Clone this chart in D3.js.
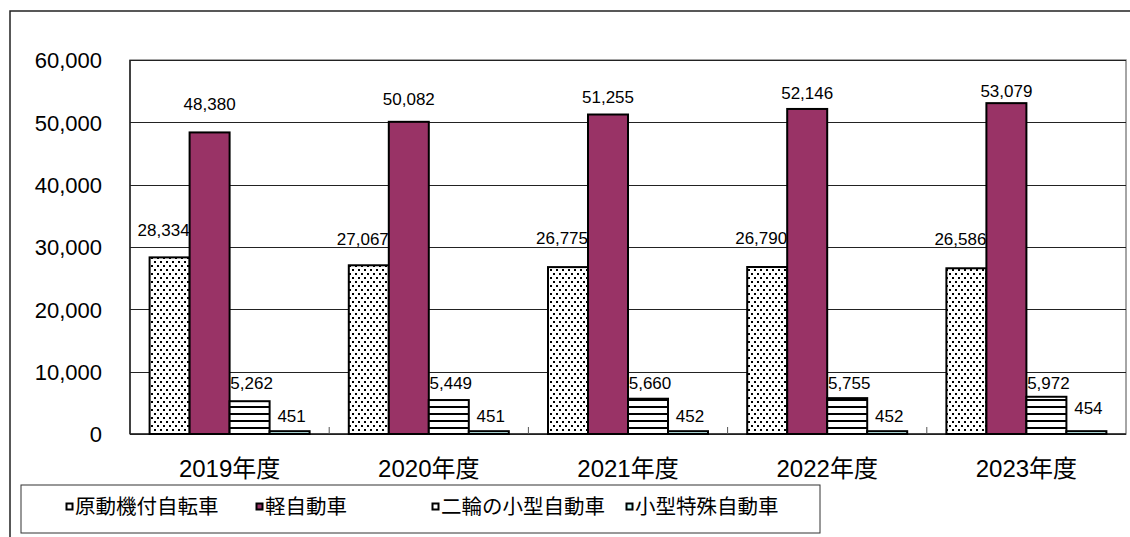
<!DOCTYPE html>
<html lang="ja">
<head>
<meta charset="utf-8">
<title>車種別台数</title>
<script src="https://d3js.org/d3.v7.min.js"></script>
<style>
  body { margin: 0; background: #fff; }
  svg { display: block; }
  text { font-family: "Liberation Sans", Arial, "Noto Sans CJK JP", sans-serif; fill: #000; }
  .ytick text { font-size: 22px; }
  .xtick text { font-size: 24px; }
  .value { font-size: 17px; }
  .legend text { font-size: 20.5px; font-family: "Noto Sans CJK JP", sans-serif; }
  .grid line { stroke: #222; stroke-width: 1; shape-rendering: crispEdges; }
  .grid path { stroke: none; }
</style>
</head>
<body>
<svg width="1130" height="537"></svg>
<script>
// data
const years = ["2019年度", "2020年度", "2021年度", "2022年度", "2023年度"];
const series = ["原動機付自転車", "軽自動車", "二輪の小型自動車", "小型特殊自動車"];
const gentsuki = [28334, 27067, 26775, 26790, 26586];
const keiJidosha = [48380, 50082, 51255, 52146, 53079];
const nirinKogata = [5262, 5449, 5660, 5755, 5972];
const kogataTokushu = [451, 451, 452, 452, 454];
const yTicks = [0, 10000, 20000, 30000, 40000, 50000, 60000];

// label offsets above bar top (px), as placed by hand in the original
const labelDy = [
  [-28, -26, -29, -29, -29],
  [-29, -23, -18, -16, -12],
  [-18, -17, -16, -15, -14],
  [-15, -15, -15, -15, -23]
];
const labelDx = [-6, 0, 2, 2];

const values = [gentsuki, keiJidosha, nirinKogata, kogataTokushu];
const fills = ["url(#dots)", "#993366", "url(#hlines)", "#ccffff"];
const legendFills = ["#fff", "#993366", "#fff", "#ccffff"];

const svg = d3.select("svg");
const plotL = 130, plotT = 60, plotR = 1126, plotB = 434;

// outer frame
svg.append("rect")
  .attr("x", 10).attr("y", 11).attr("width", 1200).attr("height", 600)
  .attr("fill", "none").attr("stroke", "#222").attr("stroke-width", 1.5);

// patterns
const defs = svg.append("defs");
const dots = defs.append("pattern").attr("id", "dots")
  .attr("patternUnits", "userSpaceOnUse").attr("width", 6).attr("height", 8);
dots.append("rect").attr("width", 6).attr("height", 8).attr("fill", "#fff");
dots.append("rect").attr("x", 1).attr("y", 1).attr("width", 2).attr("height", 2).attr("fill", "#000");
dots.append("rect").attr("x", 4).attr("y", 5).attr("width", 2).attr("height", 2).attr("fill", "#000");

const hl = defs.append("pattern").attr("id", "hlines")
  .attr("patternUnits", "userSpaceOnUse").attr("width", 8).attr("height", 7);
hl.append("rect").attr("width", 8).attr("height", 7).attr("fill", "#fff");
hl.append("rect").attr("y", 0).attr("width", 8).attr("height", 2).attr("fill", "#000");

const y = d3.scaleLinear().domain([0, 60000]).range([plotB, plotT]);
const x0 = d3.scaleBand().domain(years).range([plotL, plotR]).padding(0);
const x1 = d3.scaleBand().domain(d3.range(series.length))
  .range([0, x0.bandwidth()]).paddingInner(0).paddingOuter(0.49);

// plot border
svg.append("rect")
  .attr("x", plotL).attr("y", plotT).attr("width", plotR - plotL).attr("height", plotB - plotT)
  .attr("fill", "none").attr("stroke", "#888").attr("stroke-width", 1.5);

// grid lines
svg.append("g").attr("class", "grid")
  .attr("transform", `translate(${plotL},0)`)
  .call(d3.axisLeft(y).tickValues(yTicks).tickSize(-(plotR - plotL)).tickFormat(""));

// y labels
const yAxis = svg.append("g").attr("class", "ytick")
  .attr("transform", `translate(${plotL},0)`)
  .call(d3.axisLeft(y).tickValues(yTicks).tickSize(0).tickPadding(28).tickFormat(d3.format(",")));
yAxis.select(".domain").remove();
yAxis.selectAll("text").attr("dy", "0.36em");

// left axis line and baseline
svg.append("line").attr("x1", plotL).attr("x2", plotL).attr("y1", plotT).attr("y2", plotB)
  .attr("stroke", "#222").attr("stroke-width", 1.5);
svg.append("line").attr("x1", plotL).attr("x2", plotR).attr("y1", plotB).attr("y2", plotB)
  .attr("stroke", "#222").attr("stroke-width", 1.5);

// category boundary ticks
svg.append("g").selectAll("line")
  .data(years.slice(1))
  .join("line")
  .attr("x1", d => x0(d)).attr("x2", d => x0(d))
  .attr("y1", plotB).attr("y2", plotB - 7)
  .attr("stroke", "#555").attr("stroke-width", 1);

// x labels
const xAxis = svg.append("g").attr("class", "xtick")
  .attr("transform", `translate(0,${plotB})`)
  .call(d3.axisBottom(x0).tickSize(0));
xAxis.select(".domain").remove();
xAxis.selectAll("text").attr("y", 43).attr("dy", 0);

// value labels (drawn under bars, bars clip them like the original)
const groups = svg.append("g");
series.forEach((s, si) => {
  groups.append("g").selectAll("text")
    .data(values[si])
    .join("text")
    .attr("class", "value")
    .attr("text-anchor", "middle")
    .attr("x", (d, i) => x0(years[i]) + x1(si) + x1.bandwidth() / 2 + labelDx[si])
    .attr("y", (d, i) => y(d) + labelDy[si][i])
    .attr("dy", "0.36em")
    .text(d => d3.format(",")(d));
});

// bars
series.forEach((s, si) => {
  groups.append("g").selectAll("rect")
    .data(values[si])
    .join("rect")
    .attr("x", (d, i) => x0(years[i]) + x1(si))
    .attr("y", d => y(d))
    .attr("width", x1.bandwidth())
    .attr("height", d => y(0) - y(d))
    .attr("fill", fills[si])
    .attr("stroke", "#000")
    .attr("stroke-width", 2);
});

// legend
const lg = svg.append("g").attr("class", "legend");
lg.append("rect").attr("x", 21).attr("y", 485).attr("width", 799).attr("height", 48)
  .attr("fill", "#fff").attr("stroke", "#333").attr("stroke-width", 1);
const legendX = [66, 256, 432, 626];
series.forEach((s, si) => {
  const g = lg.append("g").attr("transform", `translate(${legendX[si]},0)`);
  g.append("rect").attr("x", 0.5).attr("y", 503.5).attr("width", 6).attr("height", 6)
    .attr("fill", legendFills[si]).attr("stroke", "#000").attr("stroke-width", 2);
  g.append("text").attr("x", 9).attr("y", 507).attr("dy", "0.36em").text(s);
});
</script>
</body>
</html>
